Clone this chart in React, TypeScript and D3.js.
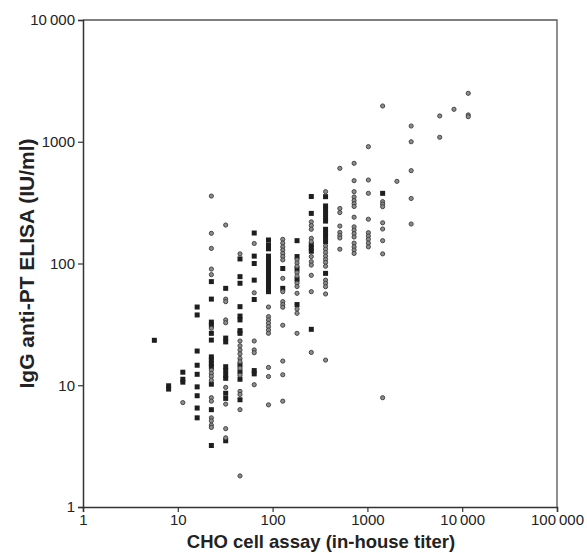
import React, { useEffect, useRef } from 'react';
import * as d3 from 'd3';

// CHO cell assay titers (x columns, two-fold steps on a sqrt2 grid)
const titers = [5.66, 8, 11.3, 16, 22.6, 32, 45.3, 64, 90.5, 128, 181, 256, 362, 512, 724, 1024, 1448, 2048, 2896, 5793, 8192, 11585];

// ELISA values drawn as open (grey) circles, one list per titer column
const circleValues = [
  [],
  [],
  [7.2],
  [],
  [358, 177, 133, 90, 81, 29.4, 13.3, 12.5, 11.8, 11.0, 7.9, 7.4, 5.4, 5.1, 4.7, 4.5],
  [207, 51, 48.6, 34.4, 32.6, 9.6, 7.0, 4.4, 3.7],
  [120, 23.1, 21.1, 19.5, 18.1, 16.6, 15.6, 13.8, 12.1, 8.9, 8.4, 6.3, 1.8],
  [146, 57.5, 23.1, 19.5, 18.5, 10.1],
  [43.9, 36.6, 34.4, 32.3, 30.3, 28.4, 26.7, 14.0, 11.8, 6.9],
  [158, 147, 137, 129, 121, 114, 107, 75.5, 58.7, 48.6, 46, 43.7, 31.1, 15.8, 12.2, 7.4],
  [107, 101, 95, 84, 79, 69, 64.7, 56.9, 42.3, 39, 26.7],
  [220, 205, 191, 161, 151, 114, 103.5, 97, 80, 58.7, 18.6],
  [389, 139, 131, 123, 115, 108, 102, 95, 73, 68.8, 64.5, 56.2, 16.1],
  [605, 283, 262, 203, 180, 170, 162, 131],
  [665, 479, 389, 352, 329, 310, 294, 240, 200, 188, 176, 165, 147, 137, 129, 121],
  [911, 485, 377, 231, 179, 168, 158, 147, 137],
  [1966, 322, 307, 293, 216, 192, 154, 120, 7.9],
  [473],
  [1347, 1000, 579, 342, 211],
  [1629, 1088],
  [1848],
  [2500, 1660, 1607],
];

// ELISA values drawn as filled squares
const squareValues = [
  [23.4],
  [9.9, 9.3],
  [12.8, 11.2, 10.6],
  [43.9, 37.8, 19.1, 14.6, 12.3, 9.7, 8.2, 6.5, 5.4],
  [71, 51, 33, 31, 26.7, 23.5, 17.1, 16.1, 15.1, 14.2, 10.2, 6.3, 3.2],
  [62.5, 24.4, 22.7, 14.2, 13.2, 12.1, 11.4, 8.6, 7.8, 3.5],
  [109, 78, 68.8, 44.2, 37, 34.4, 28.1, 26.7, 14.7, 12.9, 11.2, 7.6],
  [178, 115, 100, 73, 50.6, 13.2, 12.4],
  [156, 142, 132, 115, 107, 100, 91, 86, 80, 75.5, 71, 66.6, 62.5, 58.7],
  [91, 62.5],
  [154, 114, 90, 74, 46],
  [355, 258, 143, 134, 126, 28.8],
  [354, 297, 279, 258, 238, 223, 191, 177, 164, 151, 83],
  [],
  [],
  [],
  [377],
  [],
  [],
  [],
  [],
  [],
];

const xTicks = [1, 10, 100, 1000, 10000, 100000];
const yTicks = [1, 10, 100, 1000, 10000];

const width = 587;
const height = 553;

const fmt = (v: number) => (v >= 10000 ? d3.format(',')(v).replace(/,/g, '\u2009') : String(v));

const App = () => {
  const svgRef = useRef<SVGSVGElement | null>(null);

  useEffect(() => {
    const margin = { top: 20, right: 30, bottom: 46, left: 83 };
    const innerW = width - margin.left - margin.right;
    const innerH = height - margin.top - margin.bottom;

    const svg = d3.select(svgRef.current);
    svg.selectAll('*').remove();

    const x = d3.scaleLog().domain([1, 100000]).range([0, innerW]);
    const y = d3.scaleLog().domain([1, 10000]).range([innerH, 0]);

    const g = svg.append('g').attr('transform', `translate(${margin.left},${margin.top})`);

    // frame (top and right)
    g.append('path')
      .attr('d', `M0,0H${innerW}V${innerH}`)
      .attr('fill', 'none')
      .attr('stroke', '#555')
      .attr('stroke-width', 1.3);

    const font = '"Liberation Sans", Arial, Helvetica, sans-serif';

    // X axis
    const xAxis = g.append('g')
      .attr('transform', `translate(0,${innerH})`)
      .call(d3.axisBottom(x).tickValues(xTicks).tickFormat(d => fmt(+d)).tickSize(5).tickPadding(2));
    xAxis.select('.domain').attr('stroke', '#333').attr('stroke-width', 1.5);
    xAxis.selectAll('line').attr('stroke', '#333').attr('stroke-width', 1.2);
    xAxis.selectAll('text').attr('fill', '#222').style('font-family', font).style('font-size', '15px');

    // Y axis
    const yAxis = g.append('g')
      .call(d3.axisLeft(y).tickValues(yTicks).tickFormat(d => fmt(+d)).tickSize(5).tickPadding(3));
    yAxis.select('.domain').attr('stroke', '#333').attr('stroke-width', 1.5);
    yAxis.selectAll('line').attr('stroke', '#333').attr('stroke-width', 1.2);
    yAxis.selectAll('text').attr('fill', '#222').style('font-family', font).style('font-size', '15px');

    const circles = titers.flatMap((t, i) => circleValues[i].map(v => ({ t, v })));
    const squares = titers.flatMap((t, i) => squareValues[i].map(v => ({ t, v })));

    g.selectAll('.sq')
      .data(squares)
      .enter()
      .append('rect')
      .attr('class', 'sq')
      .attr('x', d => x(d.t) - 2.5)
      .attr('y', d => y(d.v) - 2.5)
      .attr('width', 5)
      .attr('height', 5)
      .attr('fill', '#1e1e1e');

    g.selectAll('.pt')
      .data(circles)
      .enter()
      .append('circle')
      .attr('class', 'pt')
      .attr('cx', d => x(d.t))
      .attr('cy', d => y(d.v))
      .attr('r', 2.1)
      .attr('fill', '#8c8c8c')
      .attr('stroke', '#3a3a3a')
      .attr('stroke-width', 0.9);

    // axis titles
    svg.append('text')
      .attr('x', margin.left + innerW / 2 + 1)
      .attr('y', height - 5)
      .attr('text-anchor', 'middle')
      .attr('fill', '#222')
      .style('font-family', font)
      .style('font-size', '18.5px')
      .style('font-weight', 'bold')
      .text('CHO cell assay (in-house titer)');

    svg.append('text')
      .attr('transform', 'rotate(-90)')
      .attr('x', -(margin.top + innerH / 2))
      .attr('y', 34)
      .attr('text-anchor', 'middle')
      .attr('fill', '#222')
      .style('font-family', font)
      .style('font-size', '21px')
      .style('font-weight', 'bold')
      .text('IgG anti-PT ELISA (IU/ml)');
  }, []);

  return (
    <svg
      ref={svgRef}
      width={width}
      height={height}
      style={{ position: 'absolute', left: 0, top: 0, background: '#fff' }}
    />
  );
};

export default App;
